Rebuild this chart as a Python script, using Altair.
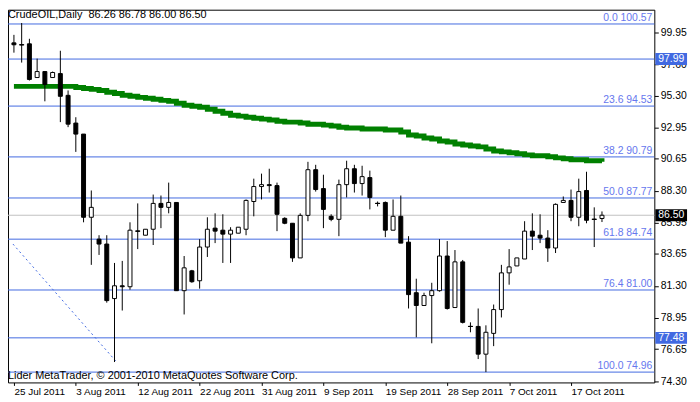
import json
import altair as alt
import pandas as pd

# ---------------- data ----------------
tick_bars = [0, 8, 16, 24, 32, 40, 48, 56, 64, 72]
tick_labels = ["25 Jul 2011", "3 Aug 2011", "12 Aug 2011", "22 Aug 2011", "31 Aug 2011",
               "9 Sep 2011", "19 Sep 2011", "28 Sep 2011", "7 Oct 2011", "17 Oct 2011"]
price_ticks = [74.30, 76.65, 78.95, 81.30, 83.65, 85.95, 88.30, 90.65, 92.95, 95.30, 97.60, 99.95]

opens = [99.18, 99.04, 99.11, 96.63, 97.07, 96.63, 96.92, 95.32, 93.28, 92.47,
         86.35, 84.74, 84.38, 80.37, 81.31, 81.24, 85.33, 85.03, 85.47, 87.37,
         87.08, 87.44, 80.95, 82.41, 81.68, 84.16, 85.55, 85.40, 85.11, 85.18,
         85.47, 87.51, 88.61, 88.75, 88.68, 86.27, 85.91, 83.36, 86.49, 89.85,
         88.46, 86.42, 86.20, 88.75, 89.92, 88.83, 89.27, 87.37, 87.44, 85.40,
         86.42, 84.52, 80.80, 79.86, 80.59, 80.95, 83.50, 79.71, 83.07, 78.32,
         78.32, 76.28, 77.81, 79.56, 82.26, 82.77, 83.28, 85.33, 85.03, 84.82,
         84.09, 87.44, 87.59, 86.35, 88.32, 86.20, 86.26]
highs = [99.77, 100.64, 99.48, 98.02, 97.07, 97.07, 98.60, 95.68, 93.71, 92.47,
         88.32, 85.03, 85.03, 82.99, 83.14, 85.98, 87.37, 85.47, 88.02, 87.95,
         88.90, 87.44, 83.50, 82.48, 84.74, 86.35, 86.64, 86.57, 85.62, 85.62,
         87.66, 89.19, 89.56, 89.92, 88.90, 86.35, 85.91, 86.64, 90.43, 90.21,
         89.48, 86.57, 89.12, 90.51, 90.21, 90.14, 89.78, 87.51, 87.51, 87.66,
         87.95, 84.96, 81.83, 80.80, 81.53, 84.74, 84.60, 83.94, 83.21, 78.62,
         79.64, 78.40, 79.93, 82.85, 84.01, 83.36, 86.06, 86.64, 86.57, 85.40,
         87.37, 87.88, 88.39, 89.19, 89.70, 87.08, 86.78]
lows = [98.46, 97.73, 96.41, 96.63, 94.88, 96.63, 93.35, 92.98, 91.16, 85.98,
        82.85, 83.58, 80.07, 75.70, 79.49, 81.02, 84.01, 85.03, 84.31, 85.55,
        86.64, 80.95, 79.20, 81.53, 81.10, 83.43, 84.45, 82.99, 82.99, 85.18,
        85.03, 86.42, 87.66, 88.17, 85.33, 85.84, 83.07, 83.36, 86.06, 88.24,
        85.55, 86.06, 84.96, 87.81, 88.17, 87.95, 86.93, 87.15, 84.89, 85.40,
        84.45, 79.64, 77.52, 79.86, 77.08, 80.88, 79.56, 79.71, 78.54, 77.89,
        75.92, 74.96, 76.87, 78.98, 81.39, 82.77, 83.28, 83.94, 84.45, 83.07,
        83.72, 87.44, 86.06, 85.69, 85.91, 84.16, 86.00]
closes = [99.04, 99.04, 96.49, 97.07, 96.12, 97.00, 95.25, 93.20, 92.47, 86.35,
          87.08, 84.38, 80.22, 81.31, 81.24, 85.40, 85.33, 85.47, 87.37, 87.08,
          87.44, 80.95, 82.63, 81.61, 84.16, 85.47, 85.33, 85.11, 85.40, 85.62,
          87.59, 88.61, 88.75, 88.68, 86.57, 85.91, 83.36, 86.49, 89.85, 88.39,
          86.93, 86.20, 88.75, 89.92, 88.83, 89.34, 87.81, 87.37, 85.40, 86.42,
          84.45, 80.66, 79.86, 80.59, 80.95, 83.50, 79.64, 83.07, 78.62, 78.32,
          76.28, 77.89, 79.56, 82.26, 82.70, 83.36, 85.33, 84.96, 84.82, 84.09,
          87.30, 87.59, 86.35, 88.24, 86.13, 86.20, 86.50]
ma_values = [95.98, 95.98, 95.98, 95.98, 95.98, 95.98, 95.98, 95.98, 95.90, 95.83,
             95.76, 95.68, 95.54, 95.46, 95.32, 95.25, 95.17, 95.10, 95.03, 94.95,
             94.88, 94.74, 94.59, 94.52, 94.44, 94.30, 94.15, 94.01, 93.86, 93.79,
             93.71, 93.64, 93.57, 93.50, 93.42, 93.35, 93.35, 93.28, 93.20, 93.20,
             93.13, 93.06, 92.98, 92.91, 92.91, 92.84, 92.84, 92.84, 92.77, 92.77,
             92.62, 92.40, 92.33, 92.18, 92.11, 91.96, 91.89, 91.74, 91.67, 91.60,
             91.53, 91.38, 91.23, 91.16, 91.09, 91.02, 90.94, 90.87, 90.87, 90.80,
             90.72, 90.65, 90.58, 90.58, 90.51, 90.51, 90.43]

fib_prices = [100.57, 94.53, 90.79, 87.77, 84.74, 81.00, 74.96]
fib_labels = ["0.0 100.57", "23.6 94.53", "38.2 90.79", "50.0 87.77",
              "61.8 84.74", "76.4 81.00", "100.0 74.96"]
hline_prices = [97.99, 77.48]
last_price = 86.50
trend_bar = [-0.125, 13.4]
trend_price = [84.38, 75.62]

title_text = "CrudeOIL,Daily\u00a0\u00a086.26 86.78 86.00 86.50"
copyright_text = "Lider MetaTrader, \u00a9 2001-2010 MetaQuotes Software Corp."

# ---------------- styling ----------------
FONT = "Liberation Sans"
BLUE = "#4169E1"
FIBTXT = "#6677EE"
W, H = 652, 376

n = len(opens)
df = pd.DataFrame({"k": list(range(n)), "open": opens, "high": highs,
                   "low": lows, "close": closes, "ma": ma_values})
df["up"] = df["close"] >= df["open"]
doji = df[df["open"] == df["close"]]

xscale = alt.Scale(domain=[-0.125, 82.125], nice=False, zero=False)
yscale = alt.Scale(domain=[74.2, 101.62], nice=False, zero=False)

label_expr = "{}[indexof({}, datum.value)]".format(json.dumps(tick_labels), json.dumps(tick_bars))
xaxis = alt.Axis(values=tick_bars, labelExpr=label_expr, title=None, grid=False, domain=False,
                 tickSize=3, tickColor="black", labelAlign="left", labelBaseline="top",
                 labelPadding=1, labelFlush=False, labelFont=FONT, labelFontSize=10,
                 labelColor="black", labelOverlap=False)
yaxis = alt.Axis(values=price_ticks, format=".2f", orient="right", title=None, grid=False,
                 domain=False, tickSize=4, tickColor="black", labelPadding=2,
                 labelFont=FONT, labelFontSize=10.5, labelColor="black", labelOverlap=False)


def X(field):
    return alt.X(field, type="quantitative", scale=xscale, axis=xaxis)


def Y(field):
    return alt.Y(field, type="quantitative", scale=yscale, axis=yaxis)


fib_df = pd.DataFrame({"price": fib_prices, "label": fib_labels})
hl_df = pd.DataFrame({"price": hline_prices})
last_df = pd.DataFrame({"price": [last_price]})
trend_df = pd.DataFrame({"k": trend_bar, "price": trend_price})

fib_rules = alt.Chart(fib_df).mark_rule(color=BLUE, strokeWidth=1).encode(y=Y("price"))
h_rules = alt.Chart(hl_df).mark_rule(color=BLUE, strokeWidth=1).encode(y=Y("price"))
last_rule = alt.Chart(last_df).mark_rule(color="#C0C0C0", strokeWidth=1).encode(y=Y("price"))
trend = alt.Chart(trend_df).mark_line(color=BLUE, strokeWidth=1, strokeDash=[2, 3]).encode(
    x=X("k"), y=Y("price"))

ma_line = alt.Chart(df).mark_line(color="#008000", strokeWidth=5, interpolate="step-after").encode(
    x=X("k"), y=Y("ma"))

wicks = alt.Chart(df).mark_rule(color="black", strokeWidth=1).encode(
    x=X("k"), y=Y("low"), y2="high")
bodies = alt.Chart(df).mark_bar(size=4, stroke="black", strokeWidth=1).encode(
    x=X("k"), y=Y("open"), y2="close",
    fill=alt.condition("datum.up", alt.value("white"), alt.value("black")))
doji_ticks = alt.Chart(doji).mark_tick(orient="horizontal", size=5, thickness=1,
                                       color="black", opacity=1).encode(x=X("k"), y=Y("open"))

fib_text = alt.Chart(fib_df).mark_text(align="right", baseline="bottom", dy=-1, font=FONT,
                                       fontSize=10.5, color=FIBTXT).encode(
    x=alt.value(W - 2), y=Y("price"), text="label")

box_df = pd.DataFrame({"price": hline_prices + [last_price],
                       "label": ["97.99", "77.48", "86.50"],
                       "fillc": [BLUE, BLUE, "black"]})
boxes = alt.Chart(box_df).mark_tick(orient="horizontal", size=32, thickness=12, opacity=1).encode(
    x=alt.value(W + 17), y=Y("price"), color=alt.Color("fillc:N", scale=None))
box_text = alt.Chart(box_df).mark_text(align="left", baseline="middle", font=FONT, fontSize=10.5,
                                       color="white").encode(
    x=alt.value(W + 4), y=Y("price"), text="label")

title = alt.Chart(pd.DataFrame({"t": [title_text]})).mark_text(
    align="left", baseline="top", font=FONT, fontSize=11, color="black").encode(
    x=alt.value(0), y=alt.value(-1), text="t")
copyright_mark = alt.Chart(pd.DataFrame({"t": [copyright_text]})).mark_text(
    align="left", baseline="alphabetic", font=FONT, fontSize=11, color="black").encode(
    x=alt.value(0), y=alt.value(H - 3), text="t")

chart = alt.layer(
    fib_rules, h_rules, last_rule, trend, ma_line, wicks, bodies, doji_ticks,
    fib_text, boxes, box_text, title, copyright_mark
).properties(
    width=W, height=H,
    autosize=alt.AutoSizeParams(type="none"),
    padding={"left": 0, "top": 0, "right": 38, "bottom": 16},
    background="white"
).configure_view(stroke="black", strokeWidth=1, fill="white")

chart.save("out.html", embed_options={"renderer": "svg", "actions": False})
